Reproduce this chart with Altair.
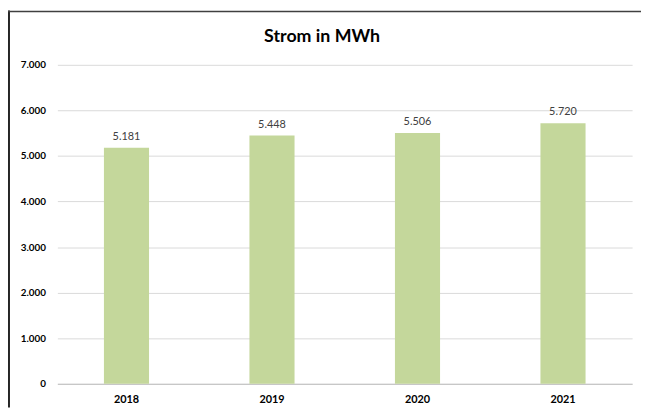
import altair as alt
import pandas as pd

years = ["2018", "2019", "2020", "2021"]
values = [5181, 5448, 5506, 5720]
y_ticks = [0, 1000, 2000, 3000, 4000, 5000, 6000, 7000]
chart_title = "Strom in MWh"

df = pd.DataFrame({"Jahr": years, "MWh": values})
FONT = "Lato"

base = alt.Chart(df).encode(
    x=alt.X("Jahr:N", sort=years, title=None,
            scale=alt.Scale(paddingInner=0.69, paddingOuter=0.32),
            axis=alt.Axis(labelAngle=0, labelFontWeight="bold", labelFontSize=11,
                          labelColor="#000000", labelPadding=10, ticks=False,
                          domainColor="#bfbfbf", labelFont=FONT)),
    y=alt.Y("MWh:Q", title=None,
            scale=alt.Scale(domain=[0, 7000], nice=False),
            axis=alt.Axis(values=y_ticks, format=",d", labelFontWeight="bold",
                          labelFontSize=10, labelColor="#000000", labelPadding=12,
                          ticks=False, domain=False, gridColor="#d9d9d9",
                          labelFont=FONT)),
)

bars = base.mark_bar(color="#C4D79B")
labels = base.mark_text(baseline="bottom", dy=-6, fontSize=11, color="#404040",
                        font=FONT).encode(text=alt.Text("MWh:Q", format=",d"))

one = alt.Chart(pd.DataFrame({"a": [0]}))
title_mark = one.mark_text(fontSize=18, fontWeight="bold", font=FONT, color="#000000",
                           align="center", baseline="middle").encode(
    x=alt.value(268), y=alt.value(-28), text=alt.value(chart_title))
left_line = one.mark_rule(color="#262626", strokeWidth=2).encode(
    x=alt.value(-49), y=alt.value(-55), y2=alt.value(347))
top_line = one.mark_rule(color="#404040", strokeWidth=1.5).encode(
    x=alt.value(-50), x2=alt.value(591), y=alt.value(-54))

chart = alt.layer(bars, labels, title_mark, left_line, top_line).properties(
    width=582, height=323,
    autosize=alt.AutoSizeParams(type="none"),
    padding={"left": 50, "top": 55, "right": 9, "bottom": 24},
).configure(
    locale={"number": {"decimal": ",", "thousands": ".", "grouping": [3],
                        "currency": ["", " €"]}}
).configure_view(stroke=None)

chart.save("out.html", embed_options={"renderer": "svg", "actions": False})
